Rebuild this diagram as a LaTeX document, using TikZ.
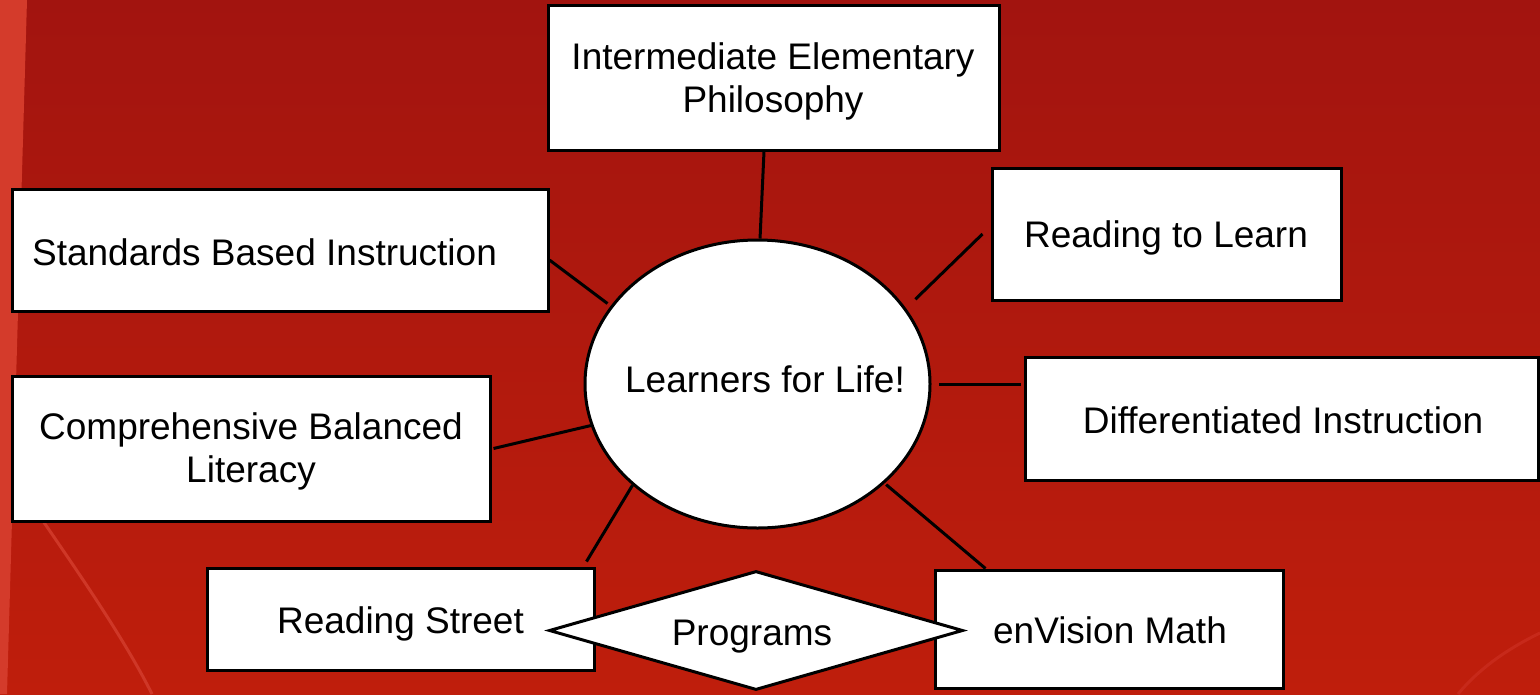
\documentclass[tikz,border=0pt]{standalone}
\usepackage{fontspec}
\setmainfont{Liberation Sans}
\usetikzlibrary{shapes.geometric}
\definecolor{bgtop}{HTML}{A2140F}
\definecolor{bgbot}{HTML}{BF1E0C}
\definecolor{stripc}{HTML}{D43B2B}
\definecolor{curvec}{HTML}{CF3727}
\definecolor{curvec2}{HTML}{C7291A}
\begin{document}
\begin{tikzpicture}[x=1pt,y=-1pt,
  box/.style={draw=black,line width=3pt,fill=white,rectangle,inner sep=0pt},
  bubble/.style={draw=black,line width=3pt,fill=white,ellipse,inner sep=0pt},
  rhomb/.style={draw=black,line width=3pt,fill=white,diamond,aspect=3.48,inner sep=0pt},
  txt/.style={inner sep=0pt,anchor=base,font=\fontsize{37}{43}\selectfont},
  txt2/.style={inner sep=0pt,align=center,font=\fontsize{37}{43}\selectfont},
  link/.style={line width=3pt,draw=black}]
\useasboundingbox (0,0) rectangle (1540,694);
% background
\shade[top color=bgtop,bottom color=bgbot] (0,0) rectangle (1540,694);
\fill[stripc] (0,0) -- (27,0) -- (7,694) -- (0,694) -- cycle;
\draw[curvec,line width=3pt] (43,521) .. controls (80,575) and (125,640) .. (152,694);
\draw[curvec2,line width=3pt] (1540,633) .. controls (1505,650) and (1478,670) .. (1458,694);
% boxes
\node[box,minimum width=451pt,minimum height=145pt] (ie) at (773.5,77.5) {};
\node[box,minimum width=536pt,minimum height=122pt] (sb) at (280,250) {};
\node[box,minimum width=349pt,minimum height=132pt] (rl) at (1166.5,234) {};
\node[box,minimum width=478pt,minimum height=145pt] (cb) at (251,448.5) {};
\node[box,minimum width=513pt,minimum height=123pt] (di) at (1281.5,418.5) {};
\node[box,minimum width=387pt,minimum height=102pt] (rs) at (400.5,619) {};
\node[box,minimum width=348pt,minimum height=118pt] (em) at (1109,629) {};
\node[rhomb,minimum width=414pt,minimum height=119pt] (pg) at (756,630.5) {};
\node[bubble,minimum width=345pt,minimum height=288pt] (c) at (757.5,384) {};
% texts
\node[txt2] (ieT) at (773,81.9) {Intermediate Elementary\\Philosophy};
\node[txt] (sbT) at (264.5,265) {Standards Based Instruction};
\node[txt] (rlT) at (1166,247) {Reading to Learn};
\node[txt2] (cbT) at (251,451.9) {Comprehensive Balanced\\Literacy};
\node[txt] (diT) at (1283,433) {Differentiated Instruction};
\node[txt] (rsT) at (400.5,633) {Reading Street};
\node[txt] (emT) at (1110,643) {enVision Math};
\node[txt] (pgT) at (752,645) {Programs};
\node[txt] (cT) at (765,392) {Learners for Life!};
% connectors
\draw[link] ([xshift=-9.5pt]ie.south) -- (c.89);
\draw[link,shorten >=4pt] ([yshift=-10pt]sb.east) -- (c.152.1);
\draw[link,shorten >=13pt] ([xshift=-8pt]rl.west) -- (c.27.6);
\draw[link,shorten >=7pt] ([xshift=-3pt,yshift=34.5pt]di.west) -- (c.0.9);
\draw[link] ([xshift=2pt]cb.east) -- (c.194);
\draw[link] ([xshift=-9pt,yshift=5pt]rs.north east) -- (c.219.6);
\draw[link,shorten >=2pt] ([xshift=52pt]em.north west) -- (c.322.7);
\end{tikzpicture}
\end{document}
